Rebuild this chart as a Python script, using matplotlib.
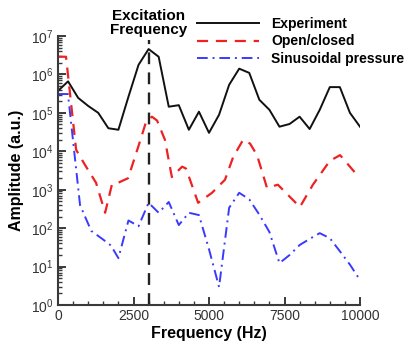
import numpy as np
import matplotlib
matplotlib.use("Agg")
import matplotlib.pyplot as plt
from matplotlib.ticker import MultipleLocator, LogLocator, NullFormatter
from matplotlib import transforms

plt.rcParams['font.family'] = ['Liberation Sans', 'DejaVu Sans']
plt.rcParams['mathtext.fontset'] = 'custom'
plt.rcParams['mathtext.rm'] = 'Liberation Sans'
plt.rcParams['mathtext.it'] = 'Liberation Sans:italic'
plt.rcParams['mathtext.bf'] = 'Liberation Sans:bold'

# ---- data (log10 amplitude) ----
exp_freq = [0, 333, 667, 1000, 1333, 1667, 2000, 2333, 2667, 3000, 3333, 3667,
            4000, 4333, 4667, 5000, 5333, 5667, 6000, 6333, 6667, 7000, 7333,
            7667, 8000, 8333, 8667, 9000, 9333, 9667, 10000]
exp_log = [5.57, 5.82, 5.39, 5.18, 5.0, 4.6, 4.56, 5.42, 6.25, 6.66, 6.46, 5.16,
           5.2, 4.56, 5.03, 4.48, 4.95, 5.73, 6.15, 6.04, 5.34, 5.08, 4.64,
           4.71, 4.9, 4.58, 5.08, 5.67, 5.67, 5.0, 4.64]

oc_freq = [0, 265, 600, 890, 1260, 1560, 1790, 1990, 2320, 2650, 2910, 3110,
           3280, 3540, 3770, 4110, 4240, 4640, 5100, 5530, 5800, 6130, 6360,
           6590, 6920, 7280, 8010, 8440, 9000, 9340, 9830]
oc_log = [6.46, 6.46, 4.04, 3.65, 3.18, 2.4, 3.15, 3.18, 3.3, 4.1, 4.75, 4.9,
          4.8, 4.3, 3.33, 3.6, 3.55, 2.66, 2.92, 3.26, 3.85, 4.3, 4.2,
          3.9, 3.05, 3.13, 2.55, 3.13, 3.75, 3.9, 3.45]

sin_freq = [0, 330, 730, 1100, 1500, 1750, 2000, 2333, 2667, 3000, 3333, 3667,
            4000, 4333, 4667, 5000, 5333, 5667, 6000, 6333, 6667, 7000, 7333,
            7667, 8000, 8333, 8667, 9000, 9333, 9667, 10000]
sin_log = [5.49, 5.49, 2.6, 1.93, 1.7, 1.55, 1.22, 2.2, 2.05, 2.66, 2.4, 2.68,
           2.08, 2.4, 2.34, 1.45, 0.47, 2.53, 2.92, 2.75, 2.35, 1.9, 1.09,
           1.3, 1.56, 1.72, 1.87, 1.74, 1.4, 1.05, 0.65]

excitation_freq = 3000
labels = ["Experiment", "Open/closed", "Sinusoidal pressure"]
xticks = [0, 2500, 5000, 7500, 10000]

W, H = 408, 344
fig = plt.figure(figsize=(W / 100, H / 100), dpi=100)
ax = fig.add_axes([58 / W, 1 - 305 / H, (360 - 58) / W, (305 - 36) / H])

gray = '#3a3a3a'
ax.plot(exp_freq, 10 ** np.array(exp_log), color='#111111', lw=1.4, label=labels[0])
ax.plot(oc_freq, 10 ** np.array(oc_log), color='#ee2222', lw=1.6,
        dashes=(5, 3.5), label=labels[1])
ax.plot(sin_freq, 10 ** np.array(sin_log), color='#3a3aff', lw=1.4,
        dashes=(5.5, 2.5, 1, 2.5), label=labels[2])

ax.axvline(excitation_freq, ymin=0, ymax=0.985, color='#222222', lw=1.7,
           dashes=(5, 3.5))

ax.set_yscale('log')
ax.set_xlim(0, 10000)
ax.set_ylim(1, 1e7)
ax.set_xticks(xticks)
ax.xaxis.set_minor_locator(MultipleLocator(500))
ax.yaxis.set_major_locator(LogLocator(base=10, numticks=10))
ax.yaxis.set_minor_locator(LogLocator(base=10, subs=np.arange(2, 10), numticks=20))
ax.yaxis.set_minor_formatter(NullFormatter())
ax.xaxis.set_minor_formatter(NullFormatter())

for s in ['top', 'right']:
    ax.spines[s].set_visible(False)
for s in ['left', 'bottom']:
    ax.spines[s].set_color(gray)
    ax.spines[s].set_linewidth(1.5)

ax.tick_params(which='major', direction='in', length=6, width=1.4, color=gray,
               labelsize=10, labelcolor='#333333', pad=3)
ax.tick_params(which='minor', direction='in', length=3, width=1.0, color=gray)

ax.set_xlabel("Frequency (Hz)", fontsize=11.5, fontweight='bold', labelpad=2)
ax.set_ylabel("Amplitude (a.u.)", fontsize=11.5, fontweight='bold', labelpad=5)

trans = transforms.blended_transform_factory(ax.transData, ax.transAxes)
ax.text(excitation_freq, 1.0 - 1 / 269, "Excitation\nFrequency", transform=trans,
        ha='center', va='bottom', fontsize=11, fontweight='bold',
        linespacing=1.0)

leg = fig.legend(loc='upper left', bbox_to_anchor=(197 / W, 1 - 17 / H),
                 frameon=False, handlelength=4.45,
                 handletextpad=0.9, labelspacing=0.25, borderpad=0,
                 borderaxespad=0, prop={'weight': 'bold', 'size': 10})

fig.savefig("out.png", dpi=100)
